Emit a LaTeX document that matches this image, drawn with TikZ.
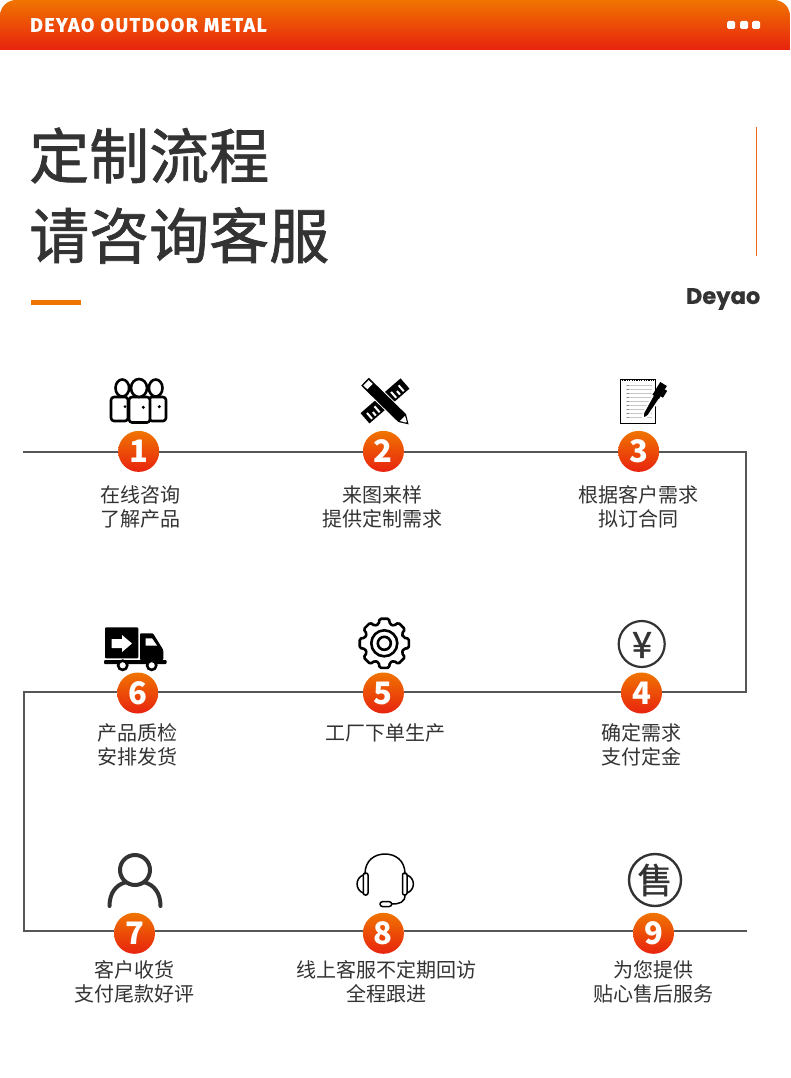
\documentclass[tikz,border=0pt]{standalone}
\usepackage{fontspec}
\setmainfont{Noto Sans CJK SC}
\newfontfamily\titlefont[FakeBold=1.2]{Noto Sans CJK SC}
\newfontfamily\glyphfont[FakeBold=1.2]{Noto Sans CJK SC}
\newfontfamily\headfont{Fira Sans}[LetterSpace=7.7,FakeBold=1]
\newfontfamily\brandfont{Poppins}[FakeBold=0.5]
\definecolor{orangetop}{HTML}{F07400}
\definecolor{redbot}{HTML}{E8230F}
\definecolor{ink}{HTML}{333333}
\definecolor{flow}{HTML}{565656}
\definecolor{rulecol}{HTML}{EC6A1E}
\tikzset{
  x=1pt,y=-1pt,
  numdot/.style={circle,minimum size=41pt,inner sep=0pt,top color=orangetop,bottom color=redbot,text=white,font=\fontsize{31}{31}\selectfont\bfseries},
  caption/.style={align=center,text=ink,inner sep=0pt,font=\fontsize{20}{24}\selectfont},
  flowline/.style={draw=flow,line width=2.1pt,line join=miter},
  titletext/.style={anchor=west,inner sep=0pt,text=ink,font=\fontsize{60}{60}\selectfont\titlefont},
  iconline/.style={draw=black,line width=2.6pt,line join=round,line cap=round},
}
\begin{document}
\begin{tikzpicture}
\useasboundingbox (0,0) rectangle (790,1078);
\fill[white] (0,0) rectangle (790,1078);
% header
\shade[top color=orangetop,bottom color=redbot] (0,50) -- (0,16) arc[start angle=180,end angle=90,x radius=16,y radius=-16] -- (774,0) arc[start angle=90,end angle=0,x radius=16,y radius=-16] -- (790,50) -- cycle;
\node[anchor=west,inner sep=0pt,text=white] (brandhead) at (30,25) {\fontsize{19.5}{20}\selectfont\headfont\bfseries DEYAO OUTDOOR METAL};
\fill[white,rounded corners=1.5pt] (727,21) rectangle (735,29) (740,21) rectangle (748,29) (752,21) rectangle (760,29);
% title
\node[titletext] (t1) at (29,155.5) {定制流程};
\node[titletext] (t2) at (29,235.5) {请咨询客服};
\fill[orangetop] (31,299.5) rectangle (81,304.5);
\draw[rulecol,line width=1pt] (756.5,127) -- (756.5,256);
\node[anchor=east,inner sep=0pt,text=ink] (deyao) at (760.5,299) {\fontsize{22.6}{23}\selectfont\brandfont\bfseries Deyao};
% numbered nodes
\node[numdot] (n1) at (138.7,451.4) {1};
\node[numdot] (n2) at (383.4,451.4) {2};
\node[numdot] (n3) at (638.7,451.4) {3};
\node[numdot] (n4) at (641.5,693) {4};
\node[numdot] (n5) at (383.4,693) {5};
\node[numdot] (n6) at (137.7,693) {6};
\node[numdot] (n7) at (134.5,933.3) {7};
\node[numdot] (n8) at (383.4,933.3) {8};
\node[numdot] (n9) at (653.5,933.3) {9};
% connector
\coordinate (s) at (23,451.7);
\coordinate (c3) at (746,451.7);
\coordinate (c4) at (746,691.8);
\coordinate (c6) at (24,691.8);
\coordinate (c7) at (24,931.2);
\coordinate (e) at (747,931.2);
\draw[flowline] (s) -- (n1.west |- s);
\draw[flowline] (n1.east |- s) -- (n2.west |- s);
\draw[flowline] (n2.east |- s) -- (n3.west |- s);
\draw[flowline] (n3.east |- s) -- (c3) -- (c4) -- (n4.east |- c4);
\draw[flowline] (n4.west |- c4) -- (n5.east |- c4);
\draw[flowline] (n5.west |- c4) -- (n6.east |- c4);
\draw[flowline] (n6.west |- c4) -- (c6) -- (c7) -- (n7.west |- c7);
\draw[flowline] (n7.east |- c7) -- (n8.west |- c7);
\draw[flowline] (n8.east |- c7) -- (n9.west |- c7);
\draw[flowline] (n9.east |- c7) -- (e);
% captions
\node[caption] (l1) at (140.3,507) {在线咨询\\了解产品};
\node[caption] (l2) at (382.3,507) {来图来样\\提供定制需求};
\node[caption] (l3) at (638.8,507) {根据客户需求\\拟订合同};
\node[caption] (l4) at (641.3,745) {确定需求\\支付定金};
\node[caption] (l5) at (385.3,733) {工厂下单生产};
\node[caption] (l6) at (137.8,745) {产品质检\\安排发货};
\node[caption] (l7) at (134.8,982) {客户收货\\支付尾款好评};
\node[caption] (l8) at (386.8,982) {线上客服不定期回访\\全程跟进};
\node[caption] (l9) at (653.3,982) {为您提供\\贴心售后服务};
% icon 1: people
\foreach \bx/\hx in {111/122.3,149/155.7}{
  \draw[iconline,fill=white,rounded corners=3pt] (\bx,397) rectangle (\bx+17,421);
  \draw[iconline,fill=white] (\hx,388) ellipse[x radius=6.8,y radius=8.5];
}
\draw[iconline,fill=white,rounded corners=3pt] (129,397) rectangle (150,422.5);
\draw[iconline,fill=white] (139,388) ellipse[x radius=8,y radius=9];
\fill (125,406.7) circle[radius=1.5] (143.3,407.3) circle[radius=1.7] (159.3,406.7) circle[radius=1.7];
% icon 2: ruler and pencil
\begin{scope}[shift={(365,418.3)},rotate=41]
  \fill (0,-6.8) rectangle (53,6.8);
  \foreach \u/\h in {5/6,10/3.5,15/6,37/6,42/3.5,47/6}{
    \fill[white] (\u-1,5-\h*1.3) rectangle (\u+1,5);
  }
\end{scope}
\begin{scope}[shift={(365,381.7)},rotate=-44.4]
  \draw[white,line width=2pt] (8,-5.5) -- (52,-5.5) -- (61,0) -- (52,5.5) -- (8,5.5) -- cycle;
  \fill (0,-5.5) -- (52,-5.5) -- (61,0) -- (52,5.5) -- (0,5.5) -- cycle;
  \fill[white] (1.5,-3.8) rectangle (7,3.8);
  \fill[white] (52.5,-3.6) -- (58,-0.5) -- (58,0.5) -- (52.5,3.6) -- cycle;
\end{scope}
% icon 3: notepad and pen
\draw[black,line width=1.2pt,fill=white] (620.5,379.5) rectangle (655.5,423.3);
\draw[black,line width=2pt,dash pattern=on 1.2pt off 1.2pt] (622,380) -- (654,380);
\foreach \y in {385,389,393,397,401,405,409,413,417}{
  \draw[black!22,line width=0.8pt] (626,\y) -- (652,\y);
  \draw[black!45,line width=0.8pt] (626.5,\y) -- (628.5,\y);
}
\begin{scope}[shift={(642.7,419.3)},rotate=58.5]
  \draw[white,line width=1.5pt,fill=black] (0,0) -- (6,-2.8) -- (28,-3.8) -- (28,3.8) -- (6,2.8) -- cycle;
  \fill (26,-4.5) rectangle (41,3.2);
  \fill (29,3) rectangle (37,6);
  \fill[white] (0.7,-0.4) -- (3,-1.2) -- (3,1.2) -- (0.7,0.4) -- cycle;
\end{scope}
% icon 4: yen
\draw[ink,line width=2.2pt] (641.7,644) circle[radius=23];
\node[inner sep=0pt,text=ink] (yen) at (642,645) {\fontsize{36}{36}\selectfont\glyphfont ¥};
% icon 5: gear
\begin{scope}[shift={(384.3,643.3)}]
  \draw[black,line width=2.6pt,rounded corners=1.5pt,line join=round] (-16:20)
    \foreach \a in {0,45,...,315}{ -- (\a-16:20) -- (\a-11:25) -- (\a+11:25) -- (\a+16:20) } -- cycle;
  \draw[black,line width=2.6pt] (0,0) circle[radius=13] (0,0) circle[radius=6.5];
\end{scope}
% icon 6: truck
\fill[rounded corners=1pt] (105,627.3) rectangle (138.3,658.3);
\fill[white] (111.5,639) -- (122,639) -- (122,635) -- (132,643.5) -- (122,652) -- (122,648) -- (111.5,648) -- cycle;
\fill[rounded corners=1pt] (140,633.3) -- (153,633.3) -- (163.3,650) -- (163.3,660) -- (140,660) -- cycle;
\fill[white] (145.7,638.3) -- (152,638.3) -- (157,645.5) -- (145.7,645.5) -- cycle;
\fill[rounded corners=1pt] (104,660) rectangle (166.7,664);
\foreach \wx in {122.7,151.7}{ \draw[black,line width=2.6pt,fill=white] (\wx,665.3) circle[radius=4.6]; }
% icon 7: user
\draw[ink,line width=4pt] (135,870) circle[radius=15];
\draw[ink,line width=4pt,line cap=round] (109.5,906) .. controls (109.5,893) and (116,885) .. (125,882.5);
\draw[ink,line width=4pt,line cap=round] (160.5,906) .. controls (160.5,893) and (154,885) .. (145,882.5);
% icon 8: headset
\draw[black,line width=1.5pt,line cap=round] (365,874) .. controls (365,860) and (375,854) .. (385,854) .. controls (395,854) and (405,860) .. (405,874);
\draw[black,line width=1.5pt,rounded corners=2pt] (363.3,873) rectangle (368,895);
\draw[black,line width=1.5pt,rounded corners=2pt] (402.5,873) rectangle (407,895);
\draw[black,line width=1.5pt] (363.3,875) .. controls (355,878) and (355,890) .. (363.3,893);
\draw[black,line width=1.5pt] (407,875) .. controls (415.5,878) and (415.5,890) .. (407,893);
\draw[black,line width=1.5pt] (405,895) .. controls (405,902) and (400,904) .. (391.7,904);
\draw[black,line width=1.5pt,rounded corners=2.4pt] (380,901.7) rectangle (391.7,906.5);
% icon 9: shou
\draw[ink,line width=2.4pt] (655,880) circle[radius=26];
\node[inner sep=0pt,text=ink] (shou) at (655,880) {\fontsize{35}{35}\selectfont\glyphfont 售};
\end{tikzpicture}
\end{document}
